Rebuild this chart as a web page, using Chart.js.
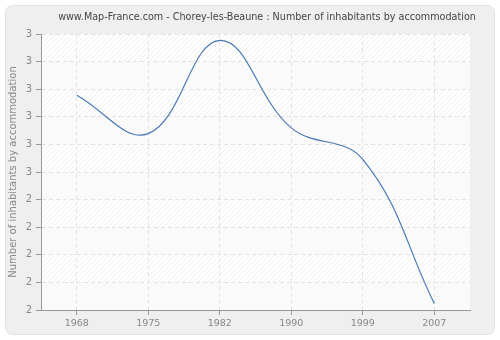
<!DOCTYPE html>
<html>
<head>
<meta charset="utf-8">
<script src="https://cdn.jsdelivr.net/npm/chart.js@4/dist/chart.umd.min.js"></script>
<style>
html,body{margin:0;padding:0;background:#fff;}
canvas{display:block;}
</style>
</head>
<body>
<canvas id="c" width="500" height="340"></canvas>
<script>
const years = ["1968", "1975", "1982", "1990", "1999", "2007"];
const inhabitantsPerHome = [2.778, 2.639, 2.977, 2.660, 2.546, 2.024];
const yMin = 2;
const yMax = 3;
const yStep = 0.1;
const titleText = "www.Map-France.com - Chorey-les-Beaune : Number of inhabitants by accommodation";
const yTitle = "Number of inhabitants by accommodation";

const FONT = "'DejaVu Sans', Verdana, sans-serif";

const backgroundPlugin = {
  id: 'bg',
  beforeDraw(chart) {
    const ctx = chart.ctx;
    ctx.save();
    ctx.fillStyle = '#ffffff';
    ctx.fillRect(0, 0, chart.width, chart.height);
    // panel
    const x = 5.5, y = 5.5, w = 489, h = 329, r = 7;
    ctx.beginPath();
    ctx.moveTo(x + r, y);
    ctx.arcTo(x + w, y, x + w, y + h, r);
    ctx.arcTo(x + w, y + h, x, y + h, r);
    ctx.arcTo(x, y + h, x, y, r);
    ctx.arcTo(x, y, x + w, y, r);
    ctx.closePath();
    ctx.fillStyle = '#efefef';
    ctx.fill();
    ctx.strokeStyle = '#e2e2e2';
    ctx.lineWidth = 1;
    ctx.stroke();
    // plot area
    const a = chart.chartArea;
    ctx.fillStyle = '#ffffff';
    ctx.fillRect(a.left, a.top, a.right - a.left, a.bottom - a.top);
    ctx.beginPath();
    ctx.rect(a.left, a.top, a.right - a.left, a.bottom - a.top);
    ctx.clip();
    ctx.strokeStyle = '#eeeeee';
    ctx.lineWidth = 1;
    ctx.beginPath();
    const H = a.bottom - a.top;
    for (let sx = a.left - H; sx < a.right + H; sx += 5) {
      ctx.moveTo(sx, a.bottom);
      ctx.lineTo(sx + H, a.top);
    }
    ctx.stroke();
    // alternating bands
    const ys = chart.scales.y;
    const ticks = ys.ticks;
    ctx.fillStyle = 'rgba(250,250,250,0.9)';
    for (let i = 0; i < ticks.length - 1; i++) {
      if ((ticks.length - 2 - i) % 2 === 1) {
        const y1 = ys.getPixelForValue(ticks[i].value);
        const y2 = ys.getPixelForValue(ticks[i + 1].value);
        ctx.fillRect(a.left, Math.min(y1, y2), a.right - a.left, Math.abs(y2 - y1));
      }
    }
    ctx.restore();
    // title
    ctx.save();
    let fs = 11;
    ctx.font = fs + 'px ' + FONT;
    const wMeasured = ctx.measureText(titleText).width;
    fs = Math.min(11, fs * 418 / wMeasured);
    ctx.font = fs.toFixed(2) + 'px ' + FONT;
    ctx.fillStyle = '#444444';
    ctx.textAlign = 'center';
    ctx.textBaseline = 'middle';
    ctx.fillText(titleText, 267, 17);
    ctx.restore();
  }
};

new Chart(document.getElementById('c'), {
  type: 'line',
  data: {
    labels: years,
    datasets: [{
      data: inhabitantsPerHome,
      borderColor: '#4a7ab4',
      borderWidth: 1.2,
      pointRadius: 0,
      pointHoverRadius: 0,
      fill: false,
      tension: 0.4
    }]
  },
  options: {
    responsive: false,
    animation: false,
    devicePixelRatio: 1,
    layout: { padding: { left: 5, right: 30, top: 34, bottom: 5 } },
    plugins: {
      legend: { display: false },
      tooltip: { enabled: false },
      title: { display: false }
    },
    scales: {
      x: {
        type: 'category',
        offset: true,
        afterFit(s) { s.height = 25; },
        grid: {
          offset: false,
          color: '#e3e3e3',
          lineWidth: 1,
          tickLength: 5,
          tickColor: '#999999',
          tickBorderDash: [],
          drawOnChartArea: true
        },
        border: { display: true, color: '#999999', width: 1, dash: [4, 3] },
        ticks: { color: '#888888', font: { family: FONT, size: 9.5 }, padding: 3, maxRotation: 0 }
      },
      y: {
        min: yMin,
        max: yMax,
        afterFit(s) { s.width = 36; },
        grid: {
          color: '#e3e3e3',
          lineWidth: 1,
          tickLength: 5,
          tickColor: '#999999',
          tickBorderDash: []
        },
        border: { display: true, color: '#999999', width: 1, dash: [4, 3] },
        ticks: {
          stepSize: yStep,
          color: '#888888',
          font: { family: FONT, size: 10 },
          padding: 4,
          callback: (v) => String(Math.round(v + 1e-9))
        },
        title: {
          display: true,
          text: yTitle,
          color: '#888888',
          font: { family: FONT, size: 10 },
          padding: { top: 2, bottom: 0 }
        }
      }
    }
  },
  plugins: [backgroundPlugin]
});
</script>
</body>
</html>
